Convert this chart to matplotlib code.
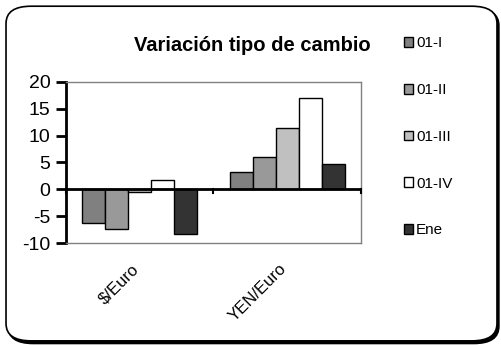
import numpy as np
import matplotlib
matplotlib.use('Agg')
from matplotlib import pyplot as plt
from matplotlib.patches import FancyBboxPatch

categories = ['$/Euro', 'YEN/Euro']
series = ['01-I', '01-II', '01-III', '01-IV', 'Ene']
values = {
    '01-I':   [-6.3, 3.3],
    '01-II':  [-7.4, 6.1],
    '01-III': [-0.4, 11.4],
    '01-IV':  [1.7, 16.9],
    'Ene':    [-8.2, 4.8],
}
colors = ['#808080', '#999999', '#c0c0c0', '#ffffff', '#333333']
yticks = [-10, -5, 0, 5, 10, 15, 20]


def main():
    plt.rcParams['font.family'] = ['Liberation Sans', 'DejaVu Sans']
    plt.rcParams['axes.unicode_minus'] = False
    fig = plt.figure(figsize=(5.02, 3.45), dpi=100)

    # rounded chart border with a heavier shadow on bottom/right
    shadow = FancyBboxPatch((0.016, 0.004), 0.978, 0.972,
                            boxstyle='round,pad=0,rounding_size=0.05',
                            transform=fig.transFigure, fc='black', ec='black',
                            lw=1.0, zorder=0)
    border = FancyBboxPatch((0.012, 0.012), 0.978, 0.970,
                            boxstyle='round,pad=0,rounding_size=0.05',
                            transform=fig.transFigure, fc='white', ec='black',
                            lw=1.2, zorder=0.5)
    fig.patches.extend([shadow, border])

    ax = fig.add_axes([0.131, 0.295, 0.588, 0.468])
    ax.set_zorder(2)
    ax.patch.set_alpha(0)

    x = np.arange(len(categories))
    width = 0.156
    n = len(series)
    for i, (name, col) in enumerate(zip(series, colors)):
        offs = (i - (n - 1) / 2) * width
        ax.bar(x + offs, values[name], width, color=col, edgecolor='black',
               lw=1.0, label=name, zorder=3)

    ax.set_xlim(-0.5, len(categories) - 0.5)
    ax.set_ylim(-10, 20)
    ax.set_yticks(yticks)
    ax.tick_params(axis='y', labelsize=14, width=2, length=7, pad=4)

    # category axis drawn at zero with ticks at group boundaries
    ax.axhline(0, color='black', lw=2, zorder=4)
    for b in [-0.5, 0.5, 1.5]:
        ax.plot([b, b], [0, -0.7], color='black', lw=1.5, zorder=4,
                clip_on=False)
    ax.set_xticks(x)
    ax.set_xticklabels([])
    ax.tick_params(axis='x', length=0)
    for xi, lab in zip(x, categories):
        ax.annotate(lab, xy=(xi, -10), xytext=(-6, -13),
                    textcoords='offset points', xycoords='data',
                    rotation=45, ha='right', va='top', fontsize=12,
                    rotation_mode='anchor')

    for s in ['top', 'right', 'bottom']:
        ax.spines[s].set_color('#808080')
        ax.spines[s].set_linewidth(1.0)
    ax.spines['left'].set_linewidth(2)

    fig.text(0.502, 0.868, 'Variación tipo de cambio', ha='center',
             va='center', fontsize=14.5, fontweight='bold')

    fig.legend(loc='upper left', bbox_to_anchor=(0.792, 0.912),
               fontsize=11, frameon=False, labelspacing=2.14,
               handlelength=0.6, handleheight=0.6,
               handletextpad=0.2, borderaxespad=0)

    plt.savefig('out.png', dpi=100)


main()
